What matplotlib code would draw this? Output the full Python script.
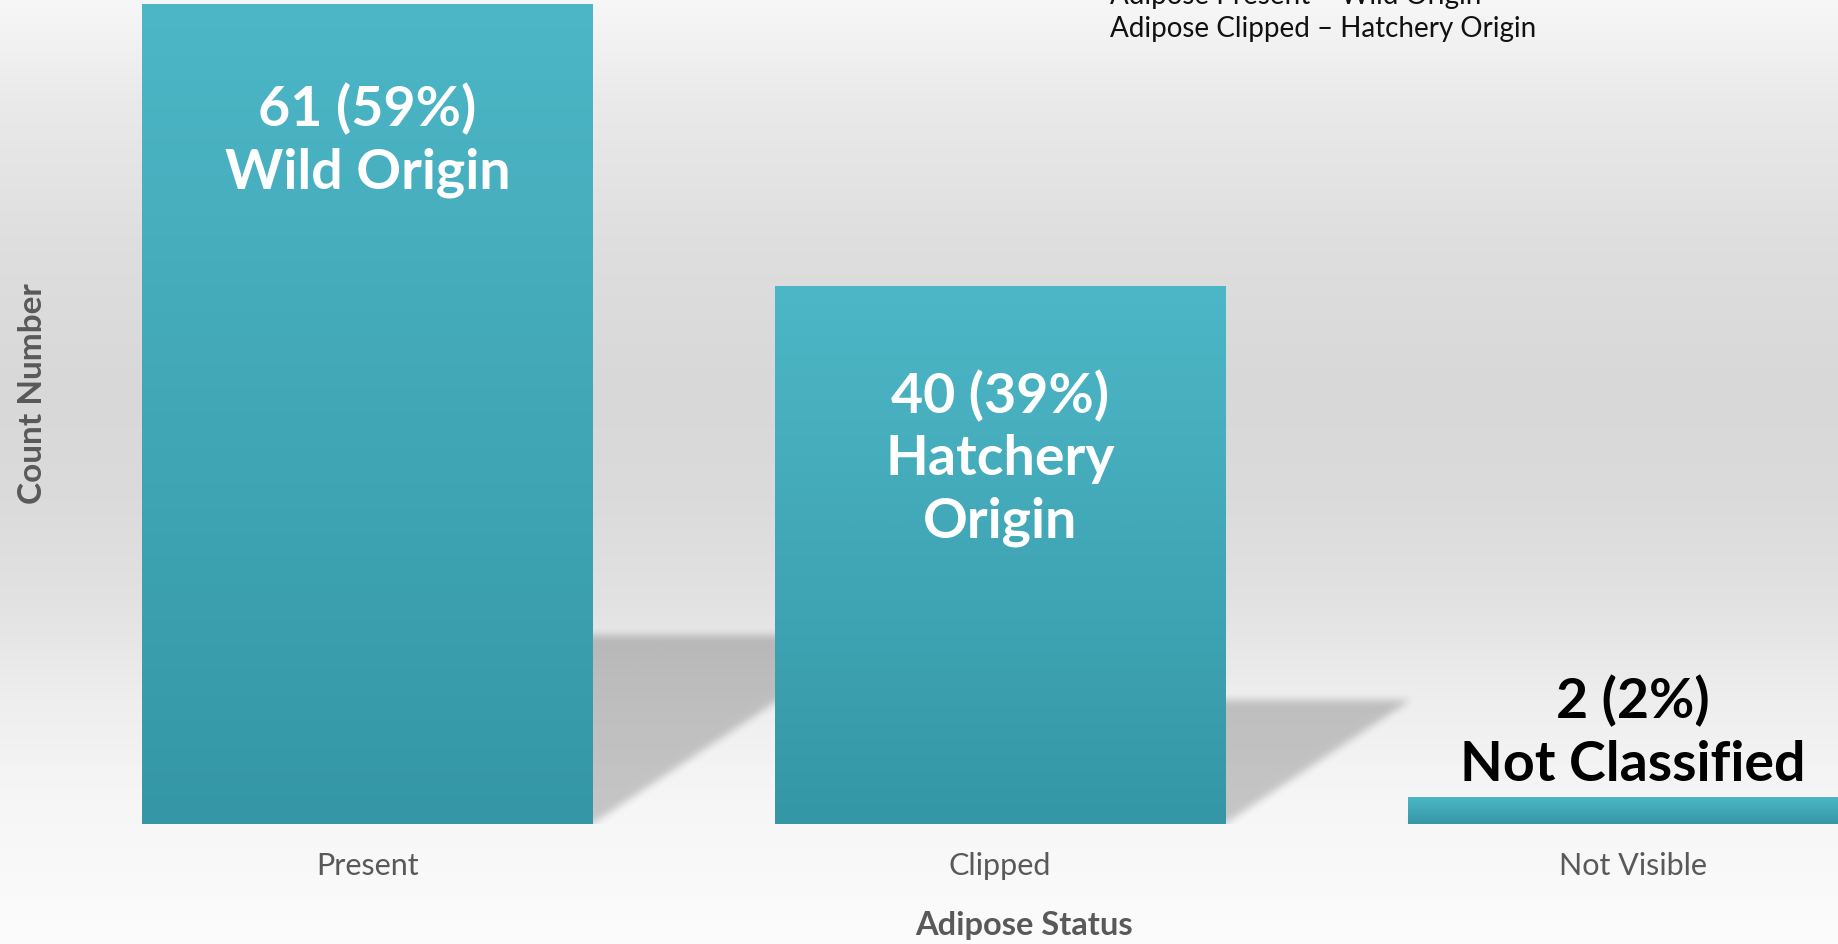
import numpy as np
import matplotlib
matplotlib.use("Agg")
import matplotlib.pyplot as plt
from matplotlib.path import Path
from matplotlib.colors import to_rgb

# ---------------- data ----------------
categories = ["Present", "Clipped", "Not Visible"]
counts = [61, 40, 2]
percents = [59, 39, 2]
origins = ["Wild Origin", "Hatchery\nOrigin", "Not Classified"]
note_lines = ["Adipose Present \u2013 Wild Origin", "Adipose Clipped \u2013 Hatchery Origin"]
x_title = "Adipose Status"
y_title = "Count Number"

# ---------------- layout / style ----------------
W, H, DPI = 1838, 944, 100
FONT = "Lato"
base_px = 824                 # baseline row (from top)
x0_px, step_px = 367.5, 632.7 # first category centre, category spacing
px_per_unit = 13.45
bar_width = 0.712
label_centres = [50.8, 27.2, 6.8]           # data-y centre of each bar label block
label_colors = ["white", "white", "black"]
shadow_frac, shadow_shear = 0.23, 1.5
top_col, bot_col = np.array(to_rgb("#4db7c7")), np.array(to_rgb("#3597a5"))

fig = plt.figure(figsize=(W / DPI, H / DPI), dpi=DPI)

# background gradient
bg = fig.add_axes([0, 0, 1, 1], zorder=-10)
bg.axis("off")
stops_y = [0, 100, 250, 390, 500, 600, 700, 800, 944]
stops_v = [247, 234, 222, 216, 219, 226, 238, 246, 252]
vals = np.interp(np.arange(H), stops_y, stops_v) / 255.0
grad = np.repeat(np.repeat(vals[:, None, None], 2, axis=1), 3, axis=2)
bg.imshow(grad, aspect="auto", extent=[0, 1, 0, 1], origin="upper", interpolation="bilinear")
bg.set_xlim(0, 1)
bg.set_ylim(0, 1)

# main axes
ax = fig.add_axes([0, (H - base_px) / H, 1, base_px / H])
ax.set_facecolor("none")
xlim = (-x0_px / step_px, (W - x0_px) / step_px)
ylim = (0, base_px / px_per_unit)

x = np.arange(len(categories))
bars = ax.bar(x, counts, width=bar_width, color="none", edgecolor="none", zorder=3)

# gradient fill for each bar
g = np.linspace(0, 1, 256)[:, None]
for b in bars:
    bx, by = b.get_x(), b.get_y()
    bw, bh = b.get_width(), b.get_height()
    img = (top_col[None, None, :] * (1 - g[:, :, None]) + bot_col[None, None, :] * g[:, :, None])
    img = np.repeat(img, 2, axis=1)
    im = ax.imshow(img, extent=[bx, bx + bw, by, by + bh], origin="upper",
                   aspect="auto", zorder=3, interpolation="bilinear")
    im.set_clip_path(b)

# soft skewed shadows behind the bars
ny, nx = base_px, W
xs = np.linspace(xlim[0], xlim[1], nx)
ys = np.linspace(ylim[0], ylim[1], ny)
XX, YY = np.meshgrid(xs, ys)
pts = np.column_stack([XX.ravel(), YY.ravel()])
mask = np.zeros(XX.size)
for b in bars:
    bx, bw, bh = b.get_x(), b.get_width(), b.get_height()
    hs = shadow_frac * bh
    dx = shadow_shear * hs * px_per_unit / step_px
    poly = Path([(bx, 0), (bx + bw, 0), (bx + bw + dx, hs), (bx + dx, hs), (bx, 0)])
    mask = np.maximum(mask, poly.contains_points(pts).astype(float))
mask = mask.reshape(ny, nx)


def box_blur(a, r, axis):
    pads = [(r, r) if k == axis else (0, 0) for k in range(2)]
    p = np.pad(a, pads, mode="edge")
    c = np.cumsum(p, axis=axis)
    c = np.insert(c, 0, 0, axis=axis)
    n = 2 * r + 1
    if axis == 0:
        return (c[n:] - c[:-n]) / n
    return (c[:, n:] - c[:, :-n]) / n


for _ in range(2):
    mask = box_blur(mask, 4, 0)
    mask = box_blur(mask, 4, 1)
shadow = np.zeros((ny, nx, 4))
shadow[..., 3] = 0.2 * mask
ax.imshow(shadow, extent=[xlim[0], xlim[1], ylim[0], ylim[1]], origin="lower",
          aspect="auto", zorder=2, interpolation="bilinear")

# bar labels
for xi, c, p, o, yc, col in zip(x, counts, percents, origins, label_centres, label_colors):
    ax.text(xi, yc, f"{c} ({p}%)\n{o}", ha="center", va="center", color=col,
            fontsize=40, fontweight="bold", family=FONT, linespacing=1.3, zorder=5)

ax.set_xlim(*xlim)
ax.set_ylim(*ylim)
for s in ax.spines.values():
    s.set_visible(False)
ax.set_yticks([])
ax.set_xticks(x)
ax.set_xticklabels(categories, fontsize=22, family=FONT, color="#595959")
ax.tick_params(axis="x", length=0, pad=20)

ax.set_xlabel(x_title, fontsize=23.5, fontweight="bold", family=FONT, color="#595959")
ax.xaxis.set_label_coords(1024 / W, (base_px - 911) / base_px)
ax.set_ylabel(y_title, fontsize=24, fontweight="bold", family=FONT, color="#595959")
ax.yaxis.label.set_verticalalignment("center")
ax.yaxis.set_label_coords(32.5 / W, (base_px - 394) / base_px)

# note in the top right (first line is cut by the top edge, as in the original)
fig.text(1110 / W, 1 - 4 / H, note_lines[0], ha="left", va="baseline", fontsize=20,
         family=FONT, color="#111111")
fig.text(1110 / W, 1 - 37 / H, note_lines[1], ha="left", va="baseline", fontsize=20,
         family=FONT, color="#111111")

fig.savefig("out.png", dpi=DPI)
